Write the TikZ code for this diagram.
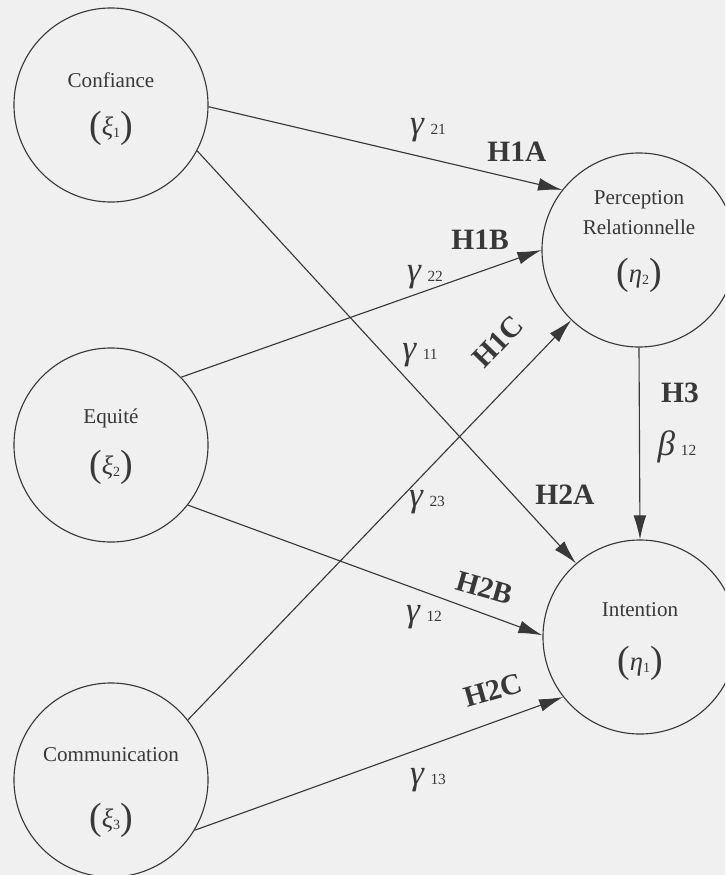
\documentclass[tikz,border=0pt]{standalone}
\usepackage{fontspec}
\setmainfont{Liberation Serif}
\usetikzlibrary{arrows.meta}

% latent variable: (symbol with small index)
\newcommand{\latvar}[2]{{\fontsize{27}{27}\selectfont(}\raisebox{1pt}{\fontsize{19}{19}\selectfont\textit{#1}}{\fontsize{10}{10}\selectfont #2}{\fontsize{27}{27}\selectfont)}}
% path coefficient: symbol with small index on the baseline
\newcommand{\coefv}[2]{\textit{#1}\,{\fontsize{11}{11}\selectfont #2}}

\begin{document}
\begin{tikzpicture}[x=0.025cm,y=-0.025cm,
  latent/.style={circle,draw=black!78,line width=0.8pt,minimum size=4.85cm,inner sep=0pt},
  lbl/.style={font=\fontsize{15}{18}\selectfont,text=black!78},
  hyp/.style={font=\fontsize{21}{24}\selectfont\bfseries,text=black!78},
  coef/.style={font=\fontsize{25}{26}\selectfont,text=black!78},
  effect/.style={draw=black!78,line width=0.8pt,-{Latex[length=6mm,width=3.2mm]}}]
\clip (0,0) rectangle (725,875);
\fill[black!6] (0,0) rectangle (725,875);

% exogenous
\node[latent] (conf) at (111,105) {};
\node[latent] (equ) at (111,445) {};
\node[latent] (comm) at (111,780) {};
% endogenous
\node[latent] (perc) at (639,250) {};
\node[latent] (int) at (640,637) {};

\node[lbl] (conf-t) at (111,80) {Confiance};
\node[lbl] (conf-v) at (111,128) {\latvar{ξ}{1}};
\node[lbl] (equ-t) at (111,418) {Equité};
\node[lbl] (equ-v) at (111,467) {\latvar{ξ}{2}};
\node[lbl] (comm-t) at (111,755) {Communication};
\node[lbl] (comm-v) at (111,820) {\latvar{ξ}{3}};
\node[lbl] (perc-t1) at (639,200) {Perception};
\node[lbl] (perc-t2) at (639,227) {Relationnelle};
\node[lbl] (perc-v) at (639,275) {\latvar{η}{2}};
\node[lbl] (int-t) at (640,610) {Intention};
\node[lbl] (int-v) at (640,663) {\latvar{η}{1}};

\draw[effect] (conf.-1) -- (perc.142);
\draw[effect] (conf.-28) -- (int.131);
\draw[effect] (equ.44) -- (perc.180);
\draw[effect] (equ.-38) -- (int.179);
\draw[effect] (comm.38) -- (perc.226);
\draw[effect] (comm.-31) -- (int.218);
\draw[effect] (perc.south) -- (int.north);

\node[coef] (g21) at (428,130) {\coefv{γ}{21}};
\node[coef] (g22) at (425,277) {\coefv{γ}{22}};
\node[coef] (g11) at (420,355) {\coefv{γ}{11}};
\node[coef] (g23) at (427,502) {\coefv{γ}{23}};
\node[coef] (g12) at (424,617) {\coefv{γ}{12}};
\node[coef] (g13) at (428,780) {\coefv{γ}{13}};
\node[coef] (b12) at (677,447) {\coefv{β}{12}};

\node[hyp] (h1a) at (517,152) {H1A};
\node[hyp] (h1b) at (480,240) {H1B};
\node[hyp,rotate=46] (h1c) at (498,342) {H1C};
\node[hyp] (h2a) at (565,495) {H2A};
\node[hyp,rotate=-16] (h2b) at (485,588) {H2B};
\node[hyp,rotate=16] (h2c) at (493,690) {H2C};
\node[hyp] (h3) at (680,393) {H3};
\end{tikzpicture}
\end{document}
